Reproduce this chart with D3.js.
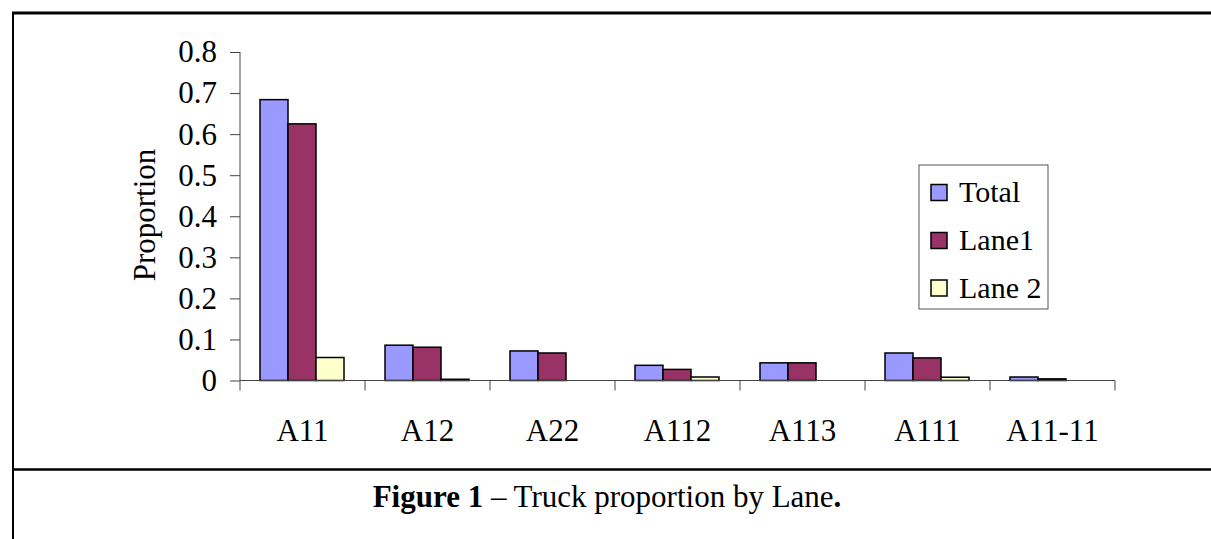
<!DOCTYPE html>
<html>
<head>
<meta charset="utf-8">
<script src="https://cdn.jsdelivr.net/npm/d3@7"></script>
<style>
  html, body { margin: 0; padding: 0; background: #fff; }
  svg { display: block; }
  text { font-family: "Liberation Serif", "Times New Roman", serif; fill: #000; }
</style>
</head>
<body>
<svg id="chart" width="1211" height="539"></svg>
<script>
// ---- data ----
const categories = ["A11", "A12", "A22", "A112", "A113", "A111", "A11-11"];
const seriesNames = ["Total", "Lane1", "Lane 2"];
const totalValues = [0.684, 0.086, 0.072, 0.037, 0.043, 0.067, 0.0085];
const lane1Values = [0.625, 0.081, 0.067, 0.027, 0.043, 0.055, 0.004];
const lane2Values = [0.056, 0.003, 0, 0.0085, 0, 0.008, 0];
const yTickValues = [0, 0.1, 0.2, 0.3, 0.4, 0.5, 0.6, 0.7, 0.8];
const seriesColors = ["#9999FF", "#993366", "#FFFFCC"];

const seriesValues = [totalValues, lane1Values, lane2Values];
const rows = categories.map((c, i) => ({
  cat: c,
  vals: seriesNames.map((s, j) => ({ s, v: seriesValues[j][i], j }))
}));

const svg = d3.select("#chart");

// frame lines
svg.append("line").attr("x1", 12).attr("x2", 1211).attr("y1", 13).attr("y2", 13)
  .attr("stroke", "#000").attr("stroke-width", 3);
svg.append("line").attr("x1", 13).attr("x2", 13).attr("y1", 12).attr("y2", 539)
  .attr("stroke", "#000").attr("stroke-width", 2);
svg.append("line").attr("x1", 12).attr("x2", 1211).attr("y1", 469.5).attr("y2", 469.5)
  .attr("stroke", "#000").attr("stroke-width", 2.5);

// scales
const x0 = d3.scaleBand().domain(categories).range([240, 1115]).padding(0);
const x1 = d3.scaleBand().domain(seriesNames).range([20, 104]).padding(0);
const y = d3.scaleLinear().domain([0, 0.8]).range([380.5, 52]);

const axisColor = "#444";
const axisFont = 31;

// bars
const g = svg.append("g");
g.selectAll("g.cat").data(rows).join("g")
  .attr("class", "cat")
  .attr("transform", d => `translate(${x0(d.cat)},0)`)
  .selectAll("rect").data(d => d.vals.filter(e => e.v > 0)).join("rect")
  .attr("x", d => x1(d.s))
  .attr("width", x1.bandwidth())
  .attr("y", d => y(d.v))
  .attr("height", d => y(0) - y(d.v))
  .attr("fill", d => seriesColors[d.j])
  .attr("stroke", "#000")
  .attr("stroke-width", 1.5);

// y axis
const yAxis = d3.axisLeft(y).tickValues(yTickValues)
  .tickFormat(d => d === 0 ? "0" : d3.format(".1f")(d))
  .tickSize(10).tickPadding(13);
const yg = svg.append("g").attr("transform", "translate(240,0)").call(yAxis);
yg.select(".domain").attr("stroke", axisColor).attr("d", `M0,${y(0.8)}V${y(0)}`);
yg.selectAll(".tick line").attr("stroke", axisColor);
yg.selectAll(".tick text").attr("font-size", axisFont).attr("font-family", "Liberation Serif").attr("fill", "#000");

// x axis
const xg = svg.append("g").attr("transform", `translate(0,${y(0)})`);
xg.append("line").attr("x1", 240).attr("x2", 1115).attr("y1", 0).attr("y2", 0).attr("stroke", axisColor);
const boundaries = categories.map(c => x0(c)).concat([x0(categories[categories.length - 1]) + x0.bandwidth()]);
xg.selectAll("line.tk").data(boundaries).join("line").attr("class", "tk")
  .attr("x1", d => d).attr("x2", d => d).attr("y1", 0).attr("y2", 10).attr("stroke", axisColor);
xg.selectAll("text.lbl").data(categories).join("text").attr("class", "lbl")
  .attr("x", d => x0(d) + x0.bandwidth() / 2)
  .attr("y", 60.5)
  .attr("text-anchor", "middle")
  .attr("font-size", axisFont)
  .text(d => d);

// y label
svg.append("text")
  .attr("transform", "translate(155,215) rotate(-90)")
  .attr("text-anchor", "middle")
  .attr("font-size", 31)
  .text("Proportion");

// legend
const leg = svg.append("g");
leg.append("rect").attr("x", 919).attr("y", 165).attr("width", 129).attr("height", 144)
  .attr("fill", "#fff").attr("stroke", "#555").attr("stroke-width", 1);
const legRowsY = [192.5, 240.5, 288];
const li = leg.selectAll("g.li").data(seriesNames).join("g").attr("class", "li")
  .attr("transform", (d, i) => `translate(931,${legRowsY[i]})`);
li.append("rect").attr("x", 0).attr("y", -8).attr("width", 16).attr("height", 16)
  .attr("fill", (d, i) => seriesColors[i]).attr("stroke", "#000").attr("stroke-width", 1.5);
li.append("text").attr("x", 28).attr("y", 0).attr("dy", "0.33em")
  .attr("font-size", 30).text(d => d);

// caption
const cap = svg.append("text").attr("x", 607).attr("y", 507).attr("text-anchor", "middle").attr("font-size", 31);
cap.append("tspan").attr("font-weight", "bold").text("Figure 1");
cap.append("tspan").text(" \u2013 Truck proportion by Lane");
cap.append("tspan").attr("font-weight", "bold").text(".");
</script>
</body>
</html>
